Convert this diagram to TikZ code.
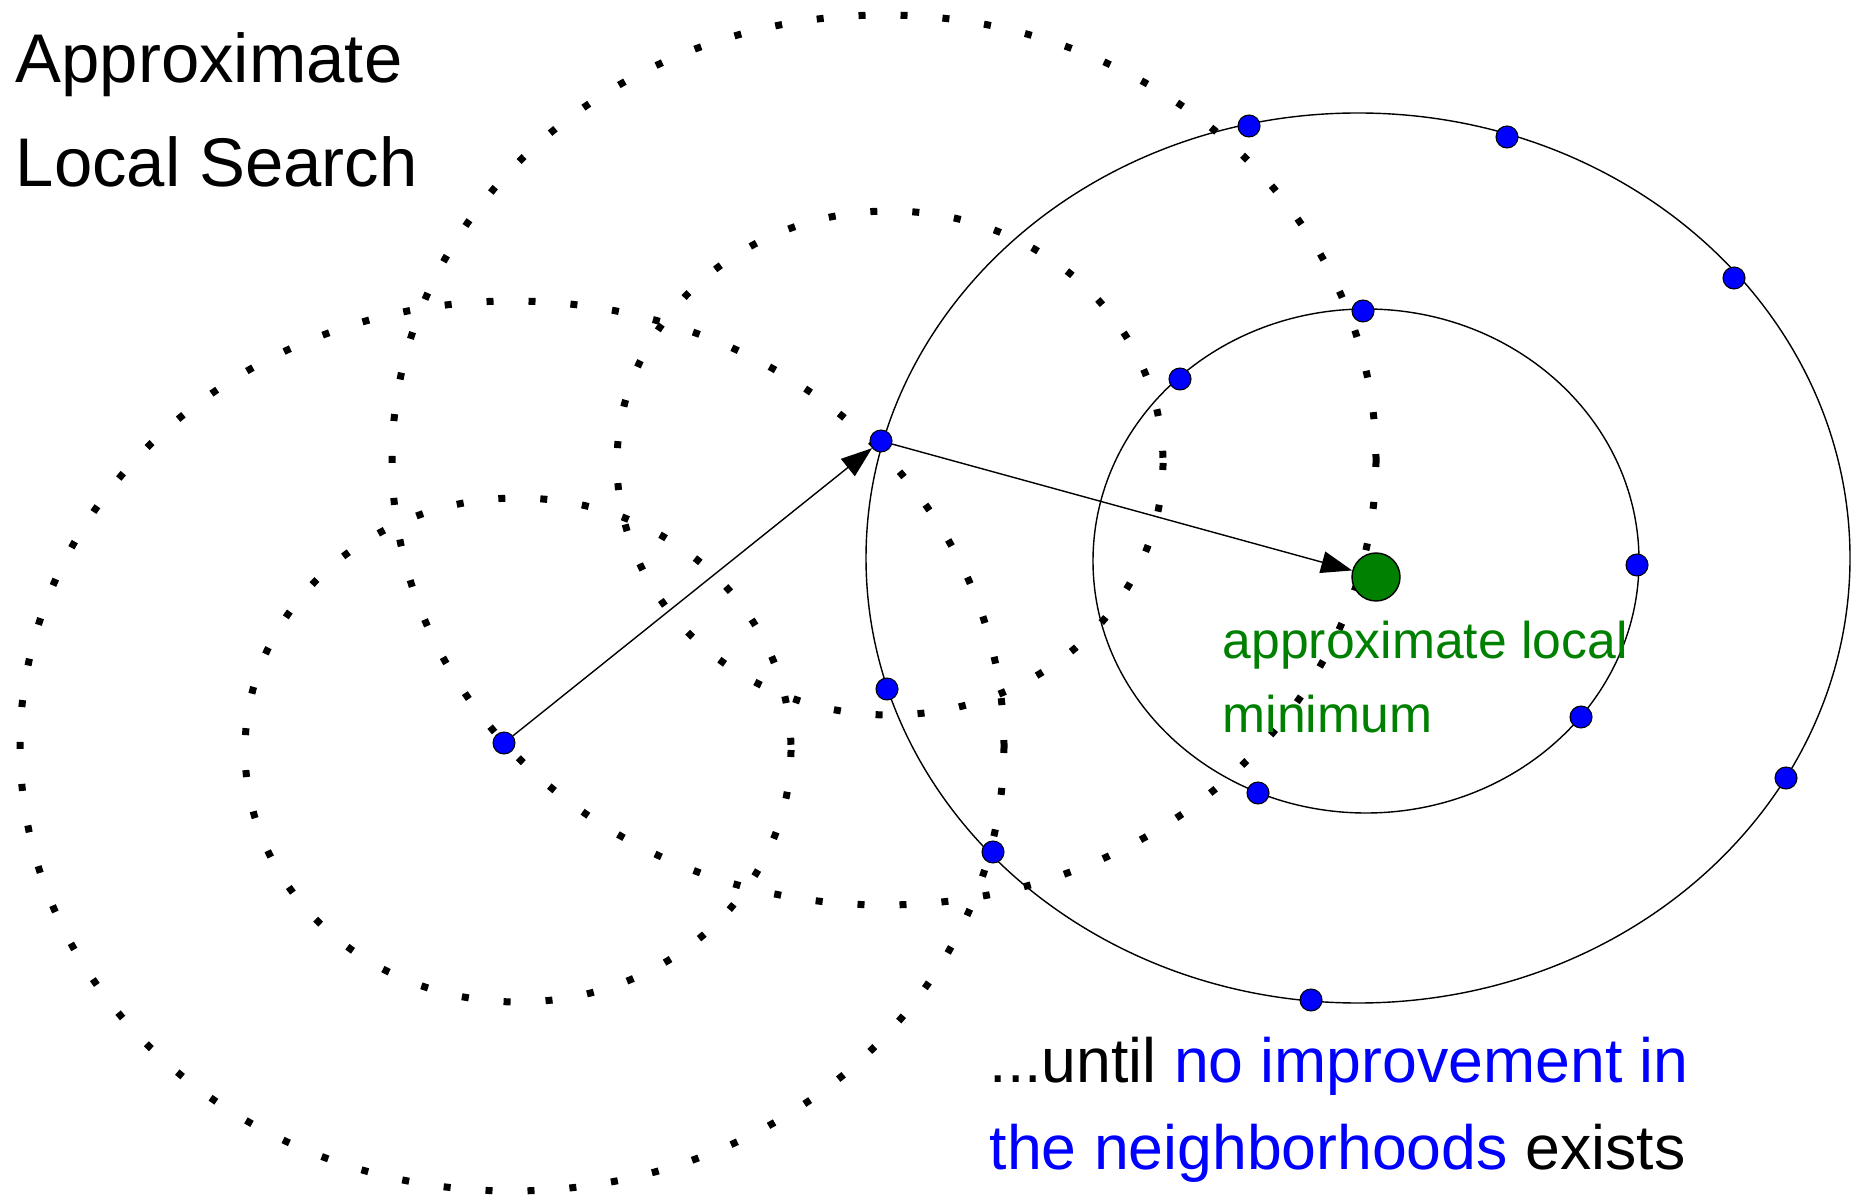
\documentclass[tikz,border=0pt]{standalone}
\usepackage{fontspec}
\setmainfont{Liberation Sans}
\usetikzlibrary{arrows.meta}
\definecolor{solblue}{RGB}{0,0,255}
\definecolor{mingreen}{RGB}{0,128,0}

\begin{document}
\begin{tikzpicture}[x=0.1mm, y=-0.1mm,
    nbhd/.style={line width=0.7mm, dash pattern=on 0.7mm off 3.5mm},
    ring/.style={line width=0.4pt},
    big/.style={x radius=492, y radius=445},
    small/.style={x radius=273, y radius=252},
    sol/.style={circle, draw, line width=0.3pt, fill=solblue,
                minimum size=2.2mm, inner sep=0pt},
    best/.style={circle, draw, line width=0.4pt, fill=mingreen,
                 minimum size=4.8mm, inner sep=0pt},
    move/.style={-{Triangle[length=3.1mm, width=2.2mm]}, line width=0.4pt},
    txt/.style={anchor=base west, align=left, inner sep=0pt},
  ]
  \useasboundingbox (0,0) rectangle (1855,1198);

  % neighbourhoods of the first two solutions
  \draw[nbhd] (512,746) ellipse [big];
  \draw[nbhd] (518,750) ellipse [small];
  \draw[nbhd] (884,460) ellipse [big];
  \draw[nbhd] (890,463) ellipse [small];

  % neighbourhoods of the minimum
  \draw[ring] (1358,558) ellipse [big];
  \draw[ring] (1366,561) ellipse [small];

  \node[sol] (s0) at (504,743) {};
  \node[sol] (s1) at (881,441) {};
  \node[best] (min) at (1376,577) {};
  \foreach \p [count=\i] in {(1249,126), (1507,137), (1734,278), (1363,311),
      (1180,379), (1637,565), (887,689), (1581,717), (1258,793), (1786,778),
      (993,852), (1311,1000)}
    \node[sol] (n\i) at \p {};

  \draw[move] (s0) -- (s1);
  \draw[move] (s1) -- (min);

  % base anchor sits on the last line
  \node[txt, font=\fontsize{19.6}{29.6}\selectfont] (title) at (15,187)
    {Approximate\\Local Search};
  \node[txt, text=mingreen, font=\fontsize{14.7}{21.3}\selectfont] (minlabel)
    at (1222,733) {approximate local\\minimum};
  \node[txt, font=\fontsize{17.8}{24.75}\selectfont] (stop) at (989,1169)
    {...until \textcolor{solblue}{no improvement in}\\
     \textcolor{solblue}{the neighborhoods} exists};
\end{tikzpicture}
\end{document}
